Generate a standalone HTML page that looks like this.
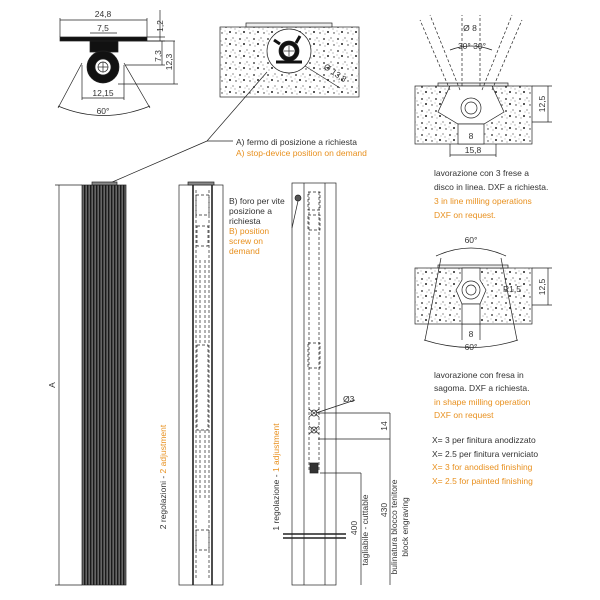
<!DOCTYPE html>
<html><head><meta charset="utf-8"><style>
html,body{margin:0;padding:0;background:#fff;}
svg{display:block;font-family:"Liberation Sans",sans-serif;}
.t{font-size:8.5px;fill:#333;}
.o{font-size:8.5px;fill:#e8901e;}
.d{font-size:8.5px;fill:#333;}
</style></head><body>
<svg width="600" height="600" viewBox="0 0 600 600" xmlns="http://www.w3.org/2000/svg">
<defs>
<pattern id="cc" width="14" height="12" patternUnits="userSpaceOnUse">
<rect width="14" height="12" fill="#fff"/>
<circle cx="2" cy="3" r="0.9" fill="#222"/><circle cx="9" cy="2" r="0.6" fill="#444"/>
<circle cx="6" cy="8" r="1" fill="#222"/><circle cx="12" cy="9" r="0.7" fill="#333"/>
<circle cx="3" cy="10" r="0.5" fill="#555"/><circle cx="11" cy="5" r="0.5" fill="#555"/>
<circle cx="7" cy="4" r="0.4" fill="#444"/><circle cx="1" cy="7" r="0.4" fill="#444"/>
</pattern>
<pattern id="st" width="3" height="10" patternUnits="userSpaceOnUse">
<rect width="3" height="10" fill="#666"/><rect width="1.4" height="10" fill="#1a1a1a"/>
</pattern>
</defs>
<g stroke="#222" fill="none" stroke-width="0.7">
<rect x="60" y="37" width="87" height="4" fill="#111"/>
<path d="M90 41 H118 V52 H90 Z" fill="#111"/>
<circle cx="103" cy="67" r="16" fill="#111"/>
<circle cx="103" cy="67" r="8" fill="#fff"/>
<circle cx="103" cy="67" r="5"/>
<line x1="98" y1="67" x2="108" y2="67"/><line x1="103" y1="62" x2="103" y2="72"/>
<line x1="60" y1="18" x2="60" y2="37"/><line x1="147" y1="18" x2="147" y2="37"/>
<line x1="60" y1="20" x2="147" y2="20"/>
<line x1="90" y1="33" x2="117" y2="33"/>
<line x1="147" y1="37" x2="165" y2="37"/><line x1="147" y1="41" x2="165" y2="41"/>
<line x1="160" y1="10" x2="160" y2="41"/>
<line x1="118" y1="41" x2="175" y2="41"/><line x1="125" y1="65" x2="165" y2="65"/><line x1="118" y1="84" x2="178" y2="84"/>
<line x1="162" y1="41" x2="162" y2="65"/><line x1="174" y1="41" x2="174" y2="84"/>
<line x1="82" y1="65" x2="82" y2="100"/><line x1="124" y1="65" x2="124" y2="100"/>
<line x1="82" y1="98" x2="124" y2="98"/>
<line x1="82" y1="63" x2="58" y2="108"/><line x1="124" y1="63" x2="150" y2="108"/>
<path d="M58 106 Q103 125 150 106"/>
<rect x="220" y="27" width="139" height="70" fill="url(#cc)"/>
<rect x="246" y="23" width="86" height="4" fill="#eee"/>
<circle cx="289" cy="51" r="22" fill="#fff"/>
<circle cx="289" cy="51" r="10" fill="#111"/>
<circle cx="289" cy="51" r="6" fill="#fff"/>
<line x1="284" y1="51" x2="294" y2="51"/><line x1="289" y1="46" x2="289" y2="56"/>
<path d="M274 40 l6 4 M300 36 l-4 7 M276 62 h26" stroke-width="3" stroke="#111"/>
<line x1="305" y1="66" x2="340" y2="88"/>
<line x1="267" y1="72" x2="207" y2="141"/><line x1="207" y1="141" x2="110" y2="183"/>
<line x1="207" y1="141" x2="233" y2="141"/>
<line x1="55" y1="185" x2="82" y2="185"/><line x1="55" y1="585" x2="82" y2="585"/>
<line x1="59" y1="185" x2="59" y2="585"/>
<rect x="82" y="185" width="44" height="400" fill="url(#st)"/>
<rect x="92" y="182" width="25" height="3" fill="#888"/>
<rect x="179" y="185" width="44" height="400"/>
<line x1="193" y1="185" x2="193" y2="585" stroke-width="1.6"/>
<line x1="212" y1="185" x2="212" y2="585" stroke-width="1.6"/>
<rect x="188" y="182" width="26" height="3" fill="#888"/>
<g stroke-dasharray="3,2"><line x1="196" y1="190" x2="196" y2="580"/><line x1="209" y1="190" x2="209" y2="580"/>
<line x1="200" y1="260" x2="200" y2="345"/><line x1="205" y1="260" x2="205" y2="345"/>
<line x1="200" y1="430" x2="200" y2="500"/><line x1="205" y1="430" x2="205" y2="500"/>
<rect x="196" y="195" width="13" height="20"/><rect x="197" y="226" width="11" height="20"/>
<rect x="197" y="345" width="11" height="85"/><rect x="196" y="530" width="13" height="20"/></g>
<rect x="292" y="183" width="44" height="402"/>
<line x1="304" y1="183" x2="304" y2="585"/><line x1="325" y1="183" x2="325" y2="585"/>
<g stroke-dasharray="3,2"><line x1="309" y1="192" x2="309" y2="470"/><line x1="319" y1="192" x2="319" y2="470"/>
<rect x="308" y="192" width="12" height="18"/><rect x="308" y="215" width="12" height="15"/><rect x="308" y="343" width="12" height="25"/></g>
<circle cx="298" cy="198" r="3" fill="#555"/><line x1="298" y1="201" x2="292" y2="228"/>
<circle cx="314" cy="413" r="3"/><circle cx="314" cy="430" r="3"/>
<path d="M309 409 l10 8 M319 409 l-10 8 M309 426 l10 8 M319 426 l-10 8"/>
<rect x="310" y="463" width="8" height="10" fill="#333"/>
<line x1="316" y1="413" x2="355" y2="400"/>
<line x1="318" y1="413" x2="390" y2="413"/><line x1="318" y1="439" x2="390" y2="439"/>
<line x1="320" y1="473" x2="361" y2="473"/>
<line x1="390" y1="413" x2="390" y2="585"/><line x1="361" y1="473" x2="361" y2="585"/>
<line x1="283" y1="534" x2="346" y2="534" stroke-width="1.4"/><line x1="283" y1="538" x2="346" y2="538" stroke-width="1.4"/>
<rect x="415" y="86" width="117" height="58" fill="url(#cc)"/>
<rect x="438" y="83" width="70" height="3" fill="#eee"/>
<path d="M450 86 L438 112 L458 124 L484 124 L504 112 L492 86 Z" fill="#fff"/>
<circle cx="471" cy="108" r="10"/><circle cx="471" cy="108" r="6"/>
<rect x="458" y="124" width="26" height="20" fill="#fff"/>
<g stroke-dasharray="3,2"><line x1="462" y1="86" x2="462" y2="15"/><line x1="480" y1="86" x2="480" y2="15"/>
<line x1="450" y1="90" x2="420" y2="20"/><line x1="460" y1="90" x2="430" y2="15"/>
<line x1="492" y1="90" x2="522" y2="20"/><line x1="482" y1="90" x2="512" y2="15"/></g>
<path d="M450 50 Q471 42 492 50"/>
<line x1="532" y1="86" x2="552" y2="86"/><line x1="532" y1="122" x2="552" y2="122"/><line x1="548" y1="86" x2="548" y2="122"/>
<line x1="450" y1="144" x2="450" y2="157"/><line x1="496" y1="144" x2="496" y2="157"/><line x1="450" y1="155" x2="496" y2="155"/>
<rect x="415" y="268" width="117" height="56" fill="url(#cc)"/>
<rect x="438" y="265" width="70" height="3" fill="#eee"/>
<path d="M462 268 V280 L456 290 L462 304 H480 L486 290 L480 280 V268 Z" fill="#fff"/>
<circle cx="471" cy="290" r="9"/><circle cx="471" cy="290" r="5"/>
<rect x="462" y="304" width="18" height="20" fill="#fff"/>
<line x1="441" y1="258" x2="425" y2="340"/><line x1="501" y1="258" x2="517" y2="340"/>
<path d="M436 256 Q471 240 506 256"/><path d="M424 340 Q471 355 518 340"/>
<line x1="532" y1="268" x2="552" y2="268"/><line x1="532" y1="305" x2="552" y2="305"/><line x1="548" y1="268" x2="548" y2="305"/>
<line x1="462" y1="324" x2="462" y2="340"/><line x1="480" y1="324" x2="480" y2="340"/>
</g>
<g class="d">
<text x="103" y="17" text-anchor="middle">24,8</text>
<text x="103" y="31" text-anchor="middle">7,5</text>
<text x="103" y="96" text-anchor="middle">12,15</text>
<text x="103" y="114" text-anchor="middle">60°</text>
<text transform="translate(163,26) rotate(-90)" text-anchor="middle">1,2</text>
<text transform="translate(161,56) rotate(-90)" text-anchor="middle">7,3</text>
<text transform="translate(172,62) rotate(-90)" text-anchor="middle">12,3</text>
<text transform="translate(323,68) rotate(35)">Ø 13,8</text>
<text x="470" y="31" text-anchor="middle">Ø 8</text>
<text x="472" y="49" text-anchor="middle">30° 30°</text>
<text x="473" y="153" text-anchor="middle">15,8</text>
<text x="471" y="139" text-anchor="middle">8</text>
<text transform="translate(545,104) rotate(-90)" text-anchor="middle">12,5</text>
<text x="471" y="243" text-anchor="middle">60°</text>
<text transform="translate(545,287) rotate(-90)" text-anchor="middle">12,5</text>
<text x="471" y="337" text-anchor="middle">8</text>
<text x="471" y="350" text-anchor="middle">60°</text>
<text x="503" y="292">R1,5</text>
<text transform="translate(55,385) rotate(-90)" text-anchor="middle">A</text>
<text x="343" y="402">Ø3</text>
<text transform="translate(387,426) rotate(-90)" text-anchor="middle">14</text>
<text transform="translate(357,528) rotate(-90)" text-anchor="middle">400</text>
<text transform="translate(368,530) rotate(-90)" text-anchor="middle">tagliabile - cuttable</text>
<text transform="translate(387,510) rotate(-90)" text-anchor="middle">430</text>
<text transform="translate(397,527) rotate(-90)" text-anchor="middle">bulinatura blocco tenitore</text>
<text transform="translate(408,527) rotate(-90)" text-anchor="middle">block engraving</text>
</g>
<text class="t" x="236" y="145">A) fermo di posizione a richiesta</text>
<text class="o" x="236" y="156">A) stop-device position on demand</text>
<text class="t" x="229" y="204">B) foro per vite</text>
<text class="t" x="229" y="214">posizione a</text>
<text class="t" x="229" y="224">richiesta</text>
<text class="o" x="229" y="234">B) position</text>
<text class="o" x="229" y="244">screw on</text>
<text class="o" x="229" y="254">demand</text>
<text transform="translate(166,477) rotate(-90)" text-anchor="middle" font-size="8.5"><tspan fill="#333">2 regolazioni - </tspan><tspan fill="#e8901e">2 adjustment</tspan></text>
<text transform="translate(279,477) rotate(-90)" text-anchor="middle" font-size="8.5"><tspan fill="#333">1 regolazione - </tspan><tspan fill="#e8901e">1 adjustment</tspan></text>
<text class="t" x="434" y="176">lavorazione con 3 frese a</text>
<text class="t" x="434" y="190">disco in linea. DXF a richiesta.</text>
<text class="o" x="434" y="204">3 in line milling operations</text>
<text class="o" x="434" y="218">DXF on request.</text>
<text class="t" x="434" y="378">lavorazione con fresa in</text>
<text class="t" x="434" y="391">sagoma. DXF a richiesta.</text>
<text class="o" x="434" y="405">in shape milling operation</text>
<text class="o" x="434" y="418">DXF on request</text>
<text class="t" x="432" y="443">X= 3 per finitura anodizzato</text>
<text class="t" x="432" y="457">X= 2.5 per finitura verniciato</text>
<text class="o" x="432" y="470">X= 3 for anodised finishing</text>
<text class="o" x="432" y="484">X= 2.5 for painted finishing</text>
</svg>
</body></html>
